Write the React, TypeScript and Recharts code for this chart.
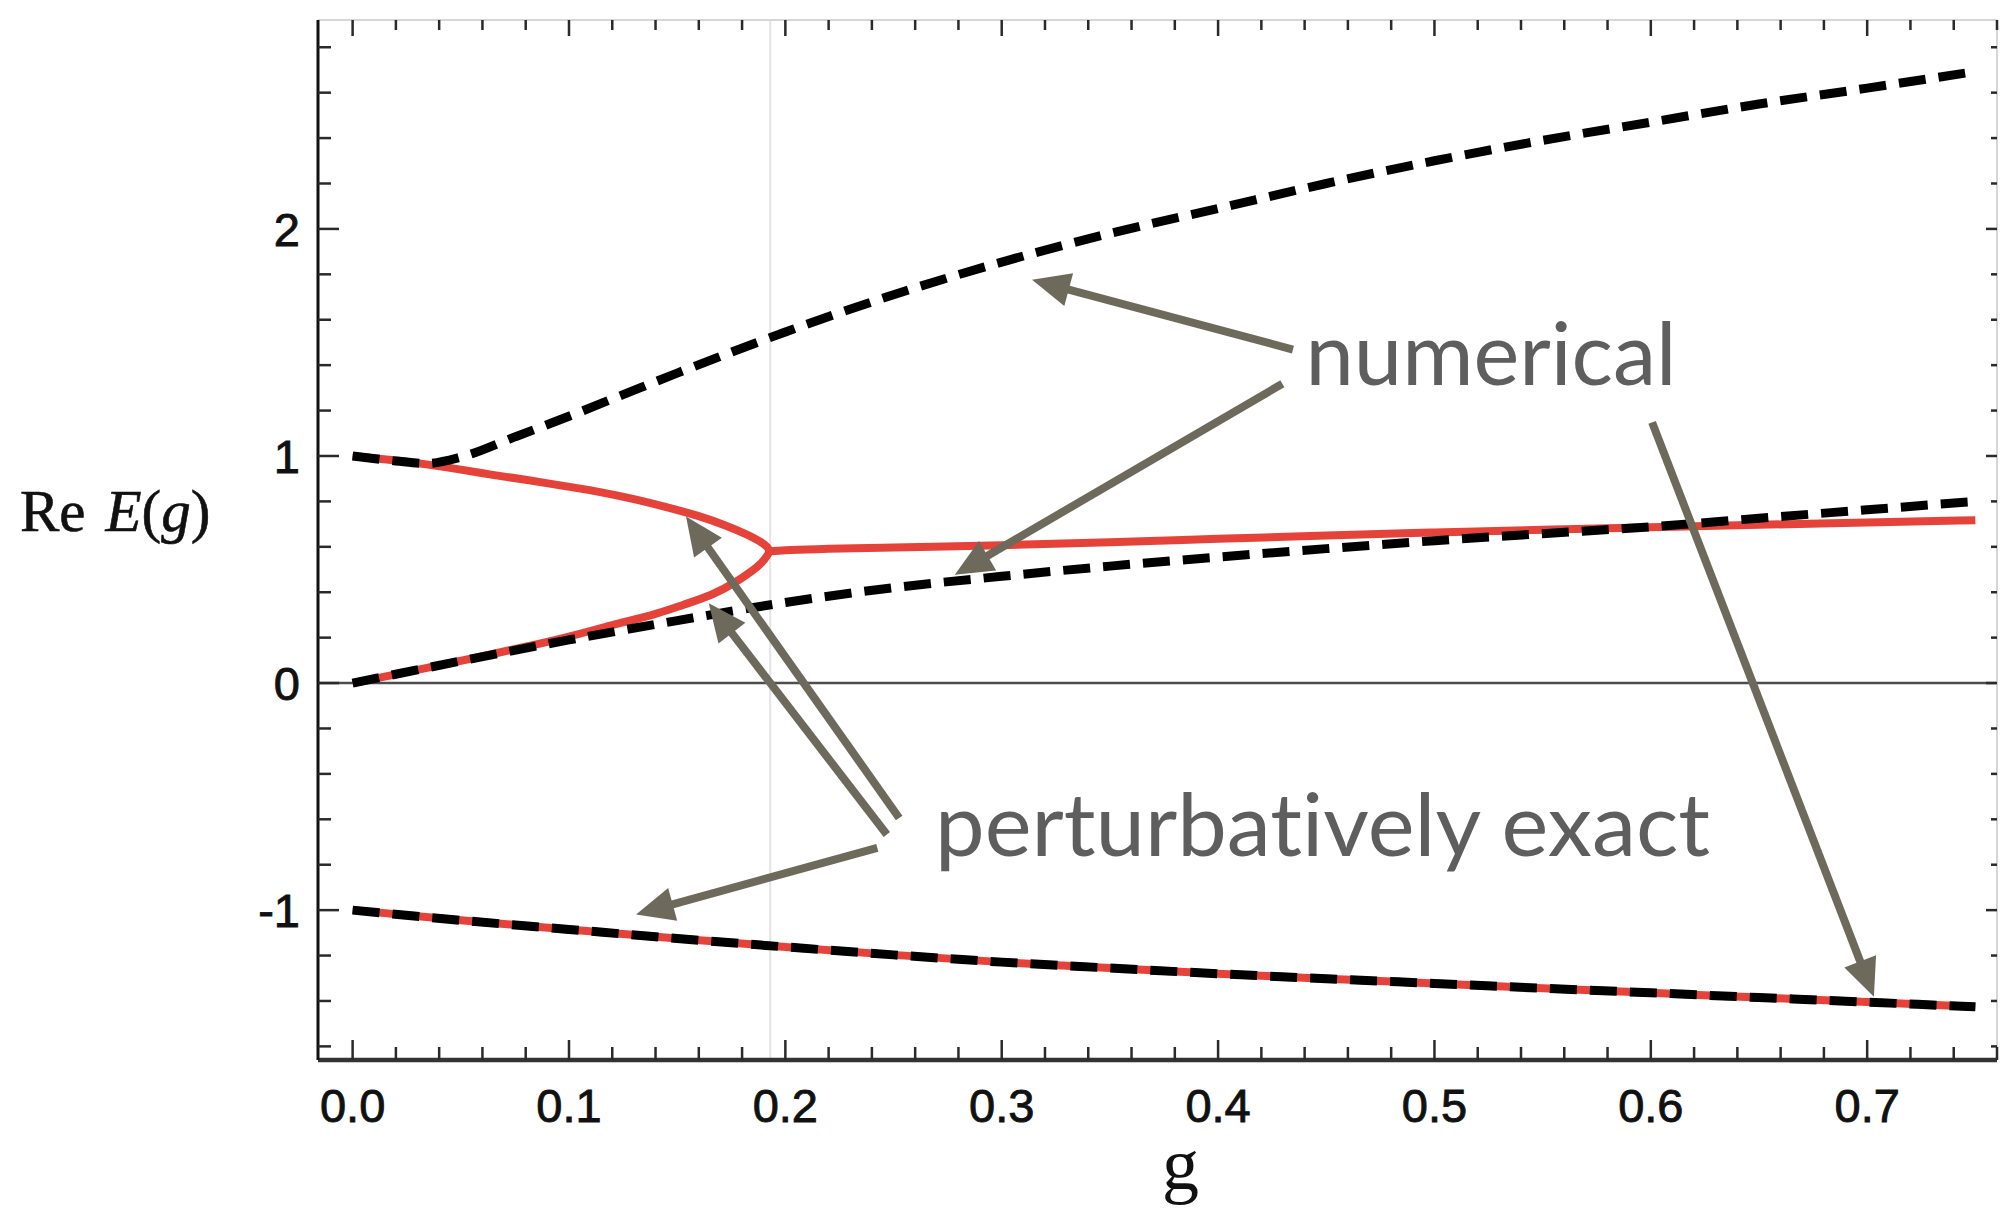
import React from 'react';
import { LineChart, Line, XAxis, YAxis, ReferenceLine, ReferenceDot } from 'recharts';

// Re E(g) against the coupling g

// numerical, upper level (black dashed)
const upperNumerical = [
  { g: 0, E: 1.0 },
  { g: 0.02, E: 0.978 },
  { g: 0.034, E: 0.967 },
  { g: 0.05, E: 0.995 },
  { g: 0.075, E: 1.084 },
  { g: 0.1, E: 1.175 },
  { g: 0.125, E: 1.27 },
  { g: 0.15, E: 1.365 },
  { g: 0.175, E: 1.457 },
  { g: 0.2, E: 1.546 },
  { g: 0.25, E: 1.71 },
  { g: 0.3, E: 1.854 },
  { g: 0.35, E: 1.98 },
  { g: 0.4, E: 2.09 },
  { g: 0.45, E: 2.2 },
  { g: 0.5, E: 2.3 },
  { g: 0.55, E: 2.39 },
  { g: 0.6, E: 2.47 },
  { g: 0.65, E: 2.55 },
  { g: 0.7, E: 2.62 },
  { g: 0.75, E: 2.693 },
];

// numerical, middle level (black dashed)
const middleNumerical = [
  { g: 0, E: 0 },
  { g: 0.05, E: 0.097 },
  { g: 0.1, E: 0.19 },
  { g: 0.15, E: 0.275 },
  { g: 0.2, E: 0.355 },
  { g: 0.25, E: 0.42 },
  { g: 0.3, E: 0.47 },
  { g: 0.35, E: 0.515 },
  { g: 0.4, E: 0.555 },
  { g: 0.45, E: 0.592 },
  { g: 0.5, E: 0.627 },
  { g: 0.55, E: 0.658 },
  { g: 0.6, E: 0.688 },
  { g: 0.65, E: 0.726 },
  { g: 0.7, E: 0.763 },
  { g: 0.75, E: 0.8 },
];

// perturbatively exact: upper branch out to the branch point, back along the lower branch
const exactBranches = [
  { g: 0, E: 1.0 },
  { g: 0.02, E: 0.98 },
  { g: 0.034, E: 0.963 },
  { g: 0.05, E: 0.94 },
  { g: 0.064, E: 0.918 },
  { g: 0.08, E: 0.895 },
  { g: 0.0995, E: 0.865 },
  { g: 0.115, E: 0.84 },
  { g: 0.13, E: 0.81 },
  { g: 0.145, E: 0.775 },
  { g: 0.16, E: 0.735 },
  { g: 0.172, E: 0.695 },
  { g: 0.182, E: 0.655 },
  { g: 0.188, E: 0.625 },
  { g: 0.1915, E: 0.6 },
  { g: 0.1925, E: 0.58 },
  { g: 0.1915, E: 0.56 },
  { g: 0.189, E: 0.53 },
  { g: 0.184, E: 0.49 },
  { g: 0.177, E: 0.445 },
  { g: 0.166, E: 0.39 },
  { g: 0.153, E: 0.345 },
  { g: 0.14, E: 0.305 },
  { g: 0.12, E: 0.255 },
  { g: 0.1, E: 0.205 },
  { g: 0.08, E: 0.16 },
  { g: 0.06, E: 0.118 },
  { g: 0.04, E: 0.078 },
  { g: 0.02, E: 0.038 },
  { g: 0, E: 0 },
];

// perturbatively exact, real part past the branch point
const exactPastBranch = [
  { g: 0.1925, E: 0.58 },
  { g: 0.2, E: 0.585 },
  { g: 0.22, E: 0.591 },
  { g: 0.25, E: 0.597 },
  { g: 0.3, E: 0.607 },
  { g: 0.35, E: 0.62 },
  { g: 0.4, E: 0.635 },
  { g: 0.45, E: 0.65 },
  { g: 0.5, E: 0.663 },
  { g: 0.55, E: 0.675 },
  { g: 0.6, E: 0.686 },
  { g: 0.65, E: 0.697 },
  { g: 0.7, E: 0.707 },
  { g: 0.75, E: 0.717 },
];

// lowest level, numerical and exact coincide
const lowerLevel = [
  { g: 0, E: -1.0 },
  { g: 0.05, E: -1.045 },
  { g: 0.1, E: -1.085 },
  { g: 0.15, E: -1.125 },
  { g: 0.2, E: -1.162 },
  { g: 0.25, E: -1.197 },
  { g: 0.3, E: -1.229 },
  { g: 0.35, E: -1.255 },
  { g: 0.4, E: -1.28 },
  { g: 0.45, E: -1.302 },
  { g: 0.5, E: -1.323 },
  { g: 0.55, E: -1.344 },
  { g: 0.6, E: -1.364 },
  { g: 0.65, E: -1.385 },
  { g: 0.7, E: -1.405 },
  { g: 0.75, E: -1.426 },
];

const xMajorTicks = [0, 0.1, 0.2, 0.3, 0.4, 0.5, 0.6, 0.7];
const xMinorTicks = [
  0.02, 0.04, 0.06, 0.08, 0.12, 0.14, 0.16, 0.18, 0.22, 0.24, 0.26, 0.28,
  0.32, 0.34, 0.36, 0.38, 0.42, 0.44, 0.46, 0.48, 0.52, 0.54, 0.56, 0.58,
  0.62, 0.64, 0.66, 0.68, 0.72, 0.74, 0.76,
];
const yMajorTicks = [-1, 0, 1, 2];
const yMinorTicks = [
  -1.6, -1.4, -1.2, -0.8, -0.6, -0.4, -0.2, 0.2, 0.4, 0.6, 0.8,
  1.2, 1.4, 1.6, 1.8, 2.2, 2.4, 2.6, 2.8,
];

const branchPoint = 0.193;

// annotation arrows, tail -> head, in data units
const arrows = [
  { from: { x: 0.4346, y: 1.4686 }, to: { x: 0.314, y: 1.776 } },
  { from: { x: 0.4297, y: 1.318 }, to: { x: 0.2783, y: 0.4765 } },
  { from: { x: 0.6006, y: 1.1478 }, to: { x: 0.7031, y: -1.3819 } },
  { from: { x: 0.2526, y: -0.594 }, to: { x: 0.1541, y: 0.733 } },
  { from: { x: 0.2469, y: -0.667 }, to: { x: 0.1646, y: 0.352 } },
  { from: { x: 0.2425, y: -0.726 }, to: { x: 0.131, y: -1.019 } },
];

const notes = [
  { text: 'numerical', g: 0.4404, E: 1.312, width: 371 },
  { text: 'perturbatively exact', g: 0.2692, E: -0.76, width: 775 },
];

const xTicks = [...xMajorTicks, ...xMinorTicks].sort((a, b) => a - b);
const yTicks = [...yMajorTicks, ...yMinorTicks].sort((a, b) => a - b);

const RED = '#e5433a';
const ARROW = '#6d695b';
const TICK = '#2a2a2a';
const tickFont = {
  fontFamily: '"Liberation Sans", Arial, sans-serif',
  fontSize: 47,
  fill: '#111',
  stroke: '#111',
  strokeWidth: 0.9,
};

const BottomTick = (p: any) => {
  const major = xMajorTicks.includes(p.payload.value);
  return (
    <g>
      <line x1={p.x} y1={p.y} x2={p.x} y2={p.y - (major ? 20 : 13)} stroke={TICK} strokeWidth={2.5} />
      {major && (
        <text x={p.x} y={p.y + 62} textAnchor="middle" {...tickFont}>
          {p.payload.value.toFixed(1)}
        </text>
      )}
    </g>
  );
};

const TopTick = (p: any) => {
  const major = xMajorTicks.includes(p.payload.value);
  return <line x1={p.x} y1={p.y} x2={p.x} y2={p.y + (major ? 16 : 10)} stroke={TICK} strokeWidth={2.5} />;
};

const LeftTick = (p: any) => {
  const major = yMajorTicks.includes(p.payload.value);
  return (
    <g>
      <line x1={p.x} y1={p.y} x2={p.x + (major ? 21 : 13)} y2={p.y} stroke={TICK} strokeWidth={2.5} />
      {major && (
        <text x={p.x - 18} y={p.y + 17} textAnchor="end" {...tickFont}>
          {String(p.payload.value)}
        </text>
      )}
    </g>
  );
};

const RightTick = (p: any) => {
  const major = yMajorTicks.includes(p.payload.value);
  return <line x1={p.x} y1={p.y} x2={p.x - (major ? 11 : 6)} y2={p.y} stroke={TICK} strokeWidth={2.5} />;
};

const Arrow = (p: any) => {
  const { x1, y1, x2, y2 } = p;
  const len = Math.hypot(x2 - x1, y2 - y1);
  const ux = (x2 - x1) / len;
  const uy = (y2 - y1) / len;
  const head = 38;
  const half = 17;
  const bx = x2 - ux * head;
  const by = y2 - uy * head;
  return (
    <g>
      <line x1={x1} y1={y1} x2={bx + ux * 2} y2={by + uy * 2} stroke={ARROW} strokeWidth={8} />
      <polygon
        points={`${x2},${y2} ${bx - uy * half},${by + ux * half} ${bx + uy * half},${by - ux * half}`}
        fill={ARROW}
      />
    </g>
  );
};

const serif = '"Liberation Serif", "Times New Roman", serif';

const YTitle = (p: any) => {
  const vb = p.viewBox;
  return (
    <text
      x={vb.x + vb.width - 298}
      y={vb.y + vb.height / 2 - 9}
      fontFamily={serif}
      fontSize={59}
      fill="#111"
      stroke="#111"
      strokeWidth={0.6}
    >
      <tspan>Re</tspan>
      <tspan dx={20} fontStyle="italic">E</tspan>
      <tspan>(</tspan>
      <tspan fontStyle="italic">g</tspan>
      <tspan>)</tspan>
    </text>
  );
};

const XTitle = (p: any) => {
  const vb = p.viewBox;
  return (
    <text x={vb.x + vb.width / 2 + 23} y={vb.y + 129} textAnchor="middle" fontFamily={serif} fontSize={74} fill="#111">
      g
    </text>
  );
};

const dashed = { stroke: '#000', strokeWidth: 9, strokeDasharray: '27 13' };
const red = { stroke: RED, strokeWidth: 8 };

export default function App() {
  return (
    <div style={{ position: 'absolute', left: 0, top: 0, width: 2000, height: 1211, background: '#fff' }}>
      <LineChart width={2000} height={1211} margin={{ top: 19, right: 2, bottom: 150, left: 317 }}>
        <XAxis
          dataKey="g"
          type="number"
          domain={[-0.016, 0.76]}
          allowDataOverflow
          height={1}
          ticks={xTicks}
          interval={0}
          tickSize={0}
          tickMargin={0}
          tickLine={false}
          tick={(p: any) => <BottomTick {...p} />}
          axisLine={{ stroke: '#333', strokeWidth: 4.5 }}
          label={(p: any) => <XTitle {...p} />}
        />
        <XAxis
          xAxisId="top"
          orientation="top"
          dataKey="g"
          type="number"
          domain={[-0.016, 0.76]}
          allowDataOverflow
          height={1}
          ticks={xTicks}
          interval={0}
          tickSize={0}
          tickMargin={0}
          tickLine={false}
          tick={(p: any) => <TopTick {...p} />}
          axisLine={{ stroke: '#d6d6d6', strokeWidth: 2 }}
        />
        <YAxis
          type="number"
          domain={[-1.66, 2.92]}
          allowDataOverflow
          width={1}
          ticks={yTicks}
          interval={0}
          tickSize={0}
          tickMargin={0}
          tickLine={false}
          tick={(p: any) => <LeftTick {...p} />}
          axisLine={{ stroke: '#111', strokeWidth: 3 }}
          label={(p: any) => <YTitle {...p} />}
        />
        <YAxis
          yAxisId="right"
          orientation="right"
          type="number"
          domain={[-1.66, 2.92]}
          allowDataOverflow
          width={1}
          ticks={yTicks}
          interval={0}
          tickSize={0}
          tickMargin={0}
          tickLine={false}
          tick={(p: any) => <RightTick {...p} />}
          axisLine={{ stroke: '#d6d6d6', strokeWidth: 2 }}
        />

        <ReferenceLine x={branchPoint} stroke="#e4e4e4" strokeWidth={2} />
        <ReferenceLine y={0} stroke="#4d4d4d" strokeWidth={2.5} />

        <Line data={exactBranches} dataKey="E" type="natural" {...red} dot={false} activeDot={false} isAnimationActive={false} />
        <Line data={exactPastBranch} dataKey="E" type="monotone" {...red} dot={false} activeDot={false} isAnimationActive={false} />
        <Line data={lowerLevel} dataKey="E" type="monotone" {...red} dot={false} activeDot={false} isAnimationActive={false} />

        <Line data={upperNumerical} dataKey="E" type="monotone" {...dashed} dot={false} activeDot={false} isAnimationActive={false} />
        <Line data={middleNumerical} dataKey="E" type="monotone" {...dashed} dot={false} activeDot={false} isAnimationActive={false} />
        <Line data={lowerLevel} dataKey="E" type="monotone" {...dashed} dot={false} activeDot={false} isAnimationActive={false} />

        {arrows.map((a, i) => (
          <ReferenceLine key={`arrow-${i}`} segment={[a.from, a.to]} shape={(p: any) => <Arrow {...p} />} />
        ))}
        {notes.map((n) => (
          <ReferenceDot
            key={n.text}
            x={n.g}
            y={n.E}
            r={0}
            shape={(p: any) => (
              <text
                x={p.cx}
                y={p.cy}
                fontFamily="Lato, 'Open Sans', sans-serif"
                fontSize={88}
                fill="#5e5e5e"
                textLength={n.width}
                lengthAdjust="spacingAndGlyphs"
                style={{ fontVariantLigatures: 'none' }}
              >
                {n.text}
              </text>
            )}
          />
        ))}
      </LineChart>
    </div>
  );
}
